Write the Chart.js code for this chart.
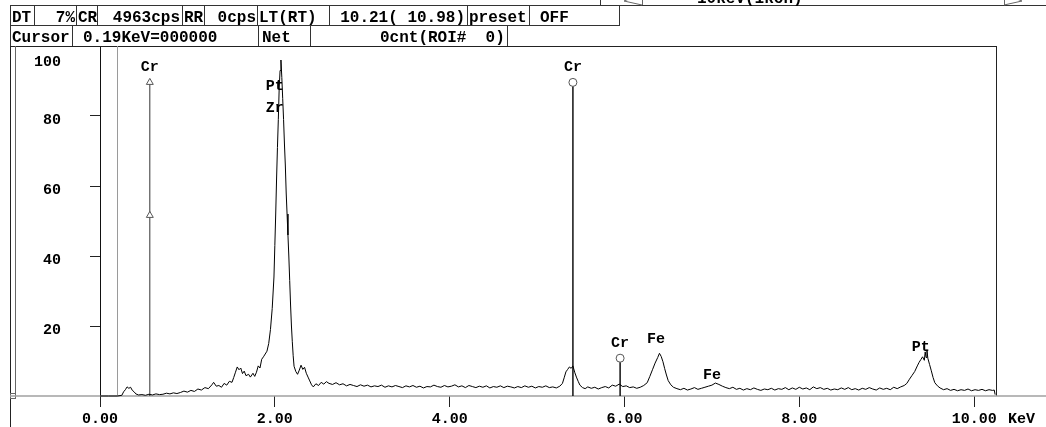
<!DOCTYPE html>
<html lang="en">
<head>
<meta charset="UTF-8">
<title>EDX spectrum</title>
<script src="https://cdn.jsdelivr.net/npm/chart.js"></script>
<style>
  html, body { margin: 0; padding: 0; background: #fff; }
</style>
</head>
<body>
<canvas id="spec" width="1046" height="427"></canvas>
<script>
// spectrum (keV / relative counts)
const energies = [
  0.00, 0.10, 0.20, 0.25, 0.27, 0.29, 0.31, 0.33, 0.35, 0.37, 0.39, 0.41, 0.44, 0.48, 0.52, 0.56, 0.60, 0.64, 0.68, 0.72,
  0.76, 0.80, 0.84, 0.88, 0.92, 0.96, 1.00, 1.04, 1.08, 1.12, 1.16, 1.20, 1.24, 1.28, 1.30, 1.33, 1.36, 1.39, 1.42, 1.45,
  1.48, 1.51, 1.53, 1.55, 1.57, 1.59, 1.61, 1.63, 1.65, 1.67, 1.70, 1.72, 1.75, 1.77, 1.79, 1.81, 1.83, 1.85, 1.87, 1.89,
  1.91, 1.93, 1.95, 1.97, 1.99, 2.00, 2.01, 2.02, 2.03, 2.04, 2.05, 2.06, 2.07, 2.08, 2.09, 2.10, 2.11, 2.12, 2.13, 2.14,
  2.15, 2.16, 2.17, 2.18, 2.19, 2.20, 2.21, 2.22, 2.24, 2.26, 2.28, 2.30, 2.32, 2.34, 2.36, 2.38, 2.40, 2.42, 2.44, 2.47,
  2.50, 2.53, 2.56, 2.59, 2.62, 2.66, 2.70, 2.74, 2.78, 2.82, 2.86, 2.90, 2.94, 2.98, 3.02, 3.06, 3.10, 3.14, 3.18, 3.22,
  3.26, 3.30, 3.34, 3.38, 3.42, 3.46, 3.50, 3.54, 3.58, 3.62, 3.66, 3.70, 3.74, 3.78, 3.82, 3.86, 3.90, 3.94, 3.98, 4.02,
  4.06, 4.10, 4.14, 4.18, 4.22, 4.26, 4.30, 4.34, 4.38, 4.42, 4.46, 4.50, 4.54, 4.58, 4.62, 4.66, 4.70, 4.74, 4.78, 4.82,
  4.86, 4.90, 4.94, 4.98, 5.02, 5.06, 5.10, 5.14, 5.18, 5.22, 5.26, 5.29, 5.31, 5.33, 5.35, 5.37, 5.39, 5.41, 5.43, 5.45,
  5.47, 5.49, 5.52, 5.55, 5.58, 5.62, 5.66, 5.70, 5.74, 5.78, 5.82, 5.86, 5.90, 5.94, 5.98, 6.02, 6.06, 6.10, 6.14, 6.18,
  6.22, 6.26, 6.29, 6.32, 6.35, 6.38, 6.40, 6.42, 6.44, 6.46, 6.48, 6.50, 6.53, 6.56, 6.60, 6.64, 6.68, 6.72, 6.76, 6.80,
  6.84, 6.88, 6.92, 6.96, 7.00, 7.04, 7.08, 7.12, 7.16, 7.20, 7.24, 7.28, 7.32, 7.36, 7.40, 7.44, 7.48, 7.52, 7.56, 7.60,
  7.64, 7.68, 7.72, 7.76, 7.80, 7.84, 7.88, 7.92, 7.96, 8.00, 8.04, 8.08, 8.12, 8.16, 8.20, 8.24, 8.28, 8.32, 8.36, 8.40,
  8.44, 8.48, 8.52, 8.56, 8.60, 8.64, 8.68, 8.72, 8.76, 8.80, 8.84, 8.88, 8.92, 8.96, 9.00, 9.04, 9.08, 9.12, 9.16, 9.20,
  9.23, 9.26, 9.29, 9.32, 9.35, 9.37, 9.39, 9.41, 9.43, 9.44, 9.45, 9.46, 9.47, 9.49, 9.51, 9.53, 9.55, 9.58, 9.61, 9.65,
  9.69, 9.73, 9.77, 9.81, 9.85, 9.89, 9.93, 9.97, 10.01, 10.05, 10.09, 10.13, 10.17, 10.21, 10.23, 10.24
];
const counts = [
  0, 0, 0, 0.2, 1.2, 1.8, 2.6, 2.2, 2.5, 1.6, 1.2, 0.6, 0.3, 0.4, 0.2, 0.5, 0.3, 0.6, 0.4, 0.5,
  0.8, 0.6, 0.9, 0.7, 1.0, 1.4, 1.1, 1.6, 1.3, 2.0, 1.7, 2.4, 2.1, 3.2, 3.9, 2.8, 3.0, 2.5, 3.6, 3.1,
  4.2, 3.9, 5.3, 6.8, 8.3, 7.5, 8.0, 6.4, 7.1, 5.8, 6.2, 5.4, 6.5, 5.6, 6.8, 8.6, 8.0, 10.5, 11.2, 12.0,
  12.8, 15.0, 19.0, 25.0, 34.0, 43.0, 52.0, 62.0, 71.0, 79.0, 88.0, 93.0, 96.0, 91.0, 85.0, 79.0, 72.0, 66.0, 58.0, 52.0,
  46.0, 40.0, 33.0, 26.0, 20.0, 15.5, 11.5, 8.5, 7.0, 6.2, 7.4, 8.8, 7.6, 8.2, 6.5, 5.4, 4.3, 3.2, 2.6, 3.5,
  3.0, 3.9, 3.4, 4.1, 3.6, 3.3, 3.8, 3.2, 3.5, 2.9, 3.3, 3.0, 2.7, 3.2, 2.8, 3.1, 2.6, 2.9, 2.7, 3.1,
  2.5, 2.9, 2.6, 3.0, 2.7, 2.4, 2.9, 2.6, 3.0, 2.5, 2.8, 2.3, 2.7, 2.6, 3.1, 2.7, 2.5, 3.0, 2.6, 2.8,
  3.2, 2.6, 2.9, 2.4, 3.0, 2.7, 2.4, 2.8, 2.5, 2.9, 2.3, 2.7, 2.5, 2.9, 2.4, 2.8, 2.6, 2.3, 2.7, 2.4,
  2.9, 2.5, 2.8, 2.3, 2.7, 2.5, 2.9, 2.4, 2.6, 2.3, 2.8, 3.6, 5.2, 6.9, 7.6, 8.3, 7.9, 8.6, 6.8, 5.4,
  4.2, 3.1, 2.4, 2.1, 2.6, 2.2, 2.5, 2.0, 2.4, 2.7, 2.3, 3.1, 2.8, 3.4, 2.7, 2.9, 2.4, 2.6, 2.2, 2.5,
  3.0, 3.8, 5.6, 7.5, 9.4, 11.0, 12.2, 11.3, 9.8, 7.8, 6.0, 4.4, 3.2, 2.5, 2.1, 1.8, 2.2, 1.7, 2.0, 2.4,
  1.9, 2.2, 2.5, 2.8, 3.1, 3.7, 3.3, 2.8, 2.4, 2.1, 2.5, 1.9, 2.2, 1.7, 2.1, 1.8, 2.3, 1.9, 1.6, 2.0,
  1.8, 2.2, 1.7, 2.1, 1.9, 2.4, 1.8, 2.3, 1.9, 2.5, 2.0, 2.3, 1.8, 2.6, 2.1, 2.4, 1.9, 2.2, 1.7, 2.0,
  1.8, 2.3, 1.9, 2.4, 1.8, 2.1, 1.7, 2.2, 1.9, 2.4, 2.0, 1.7, 2.3, 1.9, 2.2, 1.8, 2.5, 2.1, 2.6, 3.0,
  3.6, 4.8, 5.9, 7.0, 8.6, 9.6, 10.4, 11.2, 10.2, 12.6, 11.0, 13.2, 10.8, 9.0, 7.2, 5.3, 3.8, 2.9, 2.3, 1.8,
  2.1, 1.6, 1.9, 1.5, 1.8, 1.6, 2.0, 1.5, 1.8, 1.6, 1.9, 1.5, 1.8, 1.6, 1.7, 0.4
];

// element markers (KLM lines)
const markerEnergies = [0.57, 5.41, 5.95];
const markerTops = [89.6, 89.6, 10.8];
const markerMids = [51.6, null, null];
const markerStyles = ['triangle', 'circle', 'circle'];

// peak labels
const labelTexts = ['Cr', 'Cr', 'Cr', 'Pt', 'Zr', 'Fe', 'Fe', 'Pt'];
const labelEnergies = [0.57, 5.41, 5.95, 2.00, 2.00, 6.36, 7.00, 9.39];
const labelHeights = [94.0, 94.0, 15.1, 88.4, 82.3, 16.3, 5.8, 14.0];

// axes
const xTicks = [0, 2, 4, 6, 8, 10];
const yTicks = [20, 40, 60, 80, 100];
const cursorKeV = 0.19;

const MONO = "'Liberation Mono', 'DejaVu Sans Mono', monospace";
Chart.defaults.font.family = MONO;
Chart.defaults.color = '#000';

function seg(ctx, x0, y0, x1, y1) {
  ctx.beginPath();
  ctx.moveTo(x0, y0);
  ctx.lineTo(x1, y1);
  ctx.stroke();
}

const markerSets = markerEnergies.map((e, i) => {
  const pts = [{ x: e, y: 0 }];
  const radii = [0];
  if (markerMids[i] != null) { pts.push({ x: e, y: markerMids[i] }); radii.push(4); }
  pts.push({ x: e, y: markerTops[i] });
  radii.push(4);
  return {
    data: pts,
    borderColor: i === 0 ? '#333' : '#111',
    borderWidth: i === 0 ? 1 : 1.5,
    pointStyle: markerStyles[i],
    pointRadius: radii,
    pointBackgroundColor: '#fff',
    pointBorderColor: '#555',
    pointBorderWidth: 1,
    clip: false
  };
});

const framePlugin = {
  id: 'frame',
  beforeDatasetsDraw(chart) {
    const { ctx, chartArea: a, scales: { x } } = chart;
    ctx.save();
    ctx.lineWidth = 1;

    // header boxes
    ctx.strokeStyle = '#333';
    seg(ctx, 10, 5.5, 1046, 5.5);
    seg(ctx, 10, 25.5, 620, 25.5);
    [10, 34, 76, 97, 182, 204, 257, 329, 467, 529, 619].forEach(px => seg(ctx, px + 0.5, 5, px + 0.5, 25));
    [10, 72, 258, 310, 507].forEach(px => seg(ctx, px + 0.5, 25, px + 0.5, 46));
    seg(ctx, 600.5, 0, 600.5, 5);
    // scroll arrows of the top box (cut off)
    ctx.strokeStyle = '#666';
    seg(ctx, 624, 1, 642, -6); seg(ctx, 624, 1, 642, 5);
    seg(ctx, 1022, 1, 1004, -6); seg(ctx, 1022, 1, 1004, 5);
    seg(ctx, 642.5, 0, 642.5, 5); seg(ctx, 1004.5, 0, 1004.5, 5);

    // plot frame
    ctx.strokeStyle = '#222';
    seg(ctx, 10, a.top + 0.5, a.right, a.top + 0.5);
    seg(ctx, 10.5, a.top, 10.5, 427);
    seg(ctx, a.right + 0.5, a.top, a.right + 0.5, a.bottom);
    ctx.strokeStyle = '#666';
    seg(ctx, 15.5, a.top, 15.5, a.bottom);
    ctx.strokeRect(10.5, a.bottom - 2.5, 5, 5);

    // cursor line
    ctx.strokeStyle = '#9a9a9a';
    const cx = Math.round(x.getPixelForValue(cursorKeV)) + 0.5;
    seg(ctx, cx, a.top, cx, a.bottom);

    // baseline
    ctx.strokeStyle = '#a0a0a0';
    ctx.lineWidth = 1.5;
    seg(ctx, 10, a.bottom, 1046, a.bottom);
    ctx.restore();
  },
  afterDraw(chart) {
    const { ctx, chartArea: a, scales: { x, y } } = chart;
    ctx.save();
    ctx.fillStyle = '#000';

    // header text
    ctx.font = 'bold 16px ' + MONO;
    ctx.textBaseline = 'alphabetic';
    ctx.textAlign = 'left';
    [['DT', 12], ['CR', 78], ['RR', 184], ['LT(RT)', 259], ['preset', 469], ['OFF', 540]]
      .forEach(([t, px]) => ctx.fillText(t, px, 22));
    ctx.textAlign = 'right';
    [['7%', 75], ['4963cps', 180], ['0cps', 256], ['10.21( 10.98)', 465]]
      .forEach(([t, px]) => ctx.fillText(t, px, 22));
    ctx.textAlign = 'left';
    [['Cursor', 12], ['0.19KeV=000000', 83], ['Net', 262], ['0cnt(ROI#  0)', 380]]
      .forEach(([t, px]) => ctx.fillText(t, px, 42));
    ctx.fillText('10keV(1kch)', 697, 3);

    // y tick labels sit a little below their ticks, "100" well below the frame top
    ctx.font = 'bold 15px ' + MONO;
    ctx.textBaseline = 'middle';
    ctx.textAlign = 'right';
    yTicks.forEach(v => {
      const off = v >= 100 ? 16 : 4;
      ctx.fillText(String(v), 61, y.getPixelForValue(v) + off);
    });
    ctx.textAlign = 'left';
    ctx.fillText('KeV', 1008, 419);

    // peak labels
    ctx.textAlign = 'center';
    labelTexts.forEach((t, i) => {
      ctx.fillText(t, x.getPixelForValue(labelEnergies[i]), y.getPixelForValue(labelHeights[i]));
    });
    ctx.restore();
  }
};

new Chart(document.getElementById('spec').getContext('2d'), {
  type: 'line',
  data: {
    datasets: [{
      data: energies.map((e, i) => ({ x: e, y: counts[i] })),
      borderColor: '#000',
      borderWidth: 1,
      pointRadius: 0,
      tension: 0,
      clip: false
    }, ...markerSets]
  },
  options: {
    responsive: false,
    animation: false,
    events: [],
    layout: { padding: { top: 46, right: 50, bottom: 0, left: 0 } },
    plugins: { legend: { display: false }, tooltip: { enabled: false } },
    scales: {
      x: {
        type: 'linear',
        min: 0,
        max: 10.25,
        afterBuildTicks: s => { s.ticks = xTicks.map(v => ({ value: v })); },
        afterFit: s => { s.height = 31; },
        border: { display: false },
        grid: { drawOnChartArea: false, drawTicks: true, tickLength: 11, color: '#222' },
        ticks: {
          padding: 3,
          maxRotation: 0,
          font: { size: 15, weight: 'bold' },
          callback: v => v.toFixed(2)
        }
      },
      y: {
        min: 0,
        max: 100,
        afterBuildTicks: s => { s.ticks = yTicks.map(v => ({ value: v })); },
        afterFit: s => { s.width = 100; },
        border: { display: true, color: '#111', width: 1 },
        grid: {
          drawOnChartArea: false,
          drawTicks: true,
          tickLength: 10,
          color: c => (c.tick && c.tick.value >= 100 ? 'rgba(0,0,0,0)' : '#222')
        },
        ticks: { display: false }
      }
    }
  },
  plugins: [framePlugin]
});
</script>
</body>
</html>
